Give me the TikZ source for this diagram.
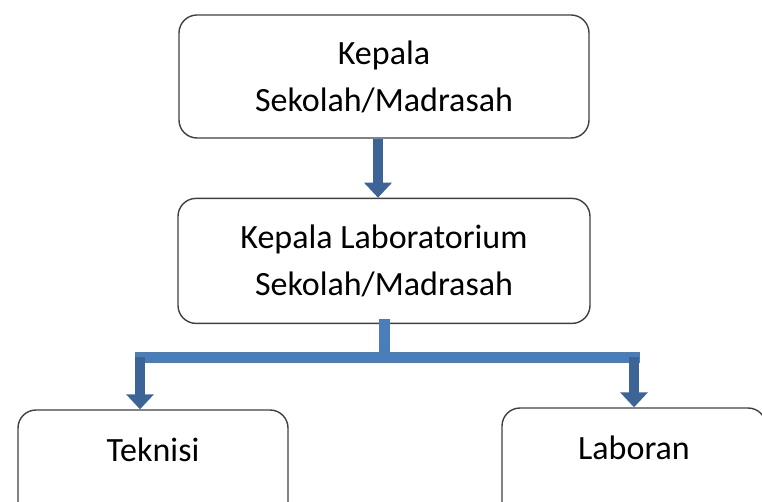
\documentclass[tikz,border=0pt]{standalone}
\usepackage{fontspec}
\setmainfont{Carlito}
\usepackage{tikz}
\usetikzlibrary{arrows.meta}
\usetikzlibrary{positioning}

\definecolor{darkarrow}{HTML}{3C6496}
\definecolor{lightbar}{HTML}{4A7EBB}

\begin{document}
\begin{tikzpicture}[x=1pt,y=1pt,>={Triangle[width=27pt,length=15pt]},
  box/.style={draw=black!75,line width=1.4pt,rounded corners=18pt,align=center,
    inner sep=0pt,font=\fontsize{34}{47}\selectfont},
  flow/.style={->,draw=darkarrow,line width=10pt},
  bar/.style={draw=lightbar,line width=11pt,line cap=rect}]

  \clip (0,0) rectangle (762,-502);
  \useasboundingbox (0,0) rectangle (762,-502);

  \node[box,minimum width=410pt,minimum height=123pt] (kepsek) at (384,-76.5) {Kepala\\Sekolah/Madrasah};
  \node[box,minimum width=412pt,minimum height=125pt] (kalab) [below=59pt of kepsek] {Kepala Laboratorium\\Sekolah/Madrasah};
  \node[box,minimum width=270pt,minimum height=127pt] (teknisi) at (153,-473.5) {Teknisi\\~};
  \node[box,minimum width=264pt,minimum height=127pt] (laboran) at (634,-471.5) {Laboran\\~};

  \coordinate (fork) at ([yshift=-33pt]kalab.south);
  \coordinate (tekdrop) at ([xshift=-13pt]teknisi.north);
  \coordinate (labdrop) at (laboran.north);

  \draw[flow] ([xshift=-6pt]kepsek.south) -- ([xshift=-6pt]kalab.north);
  \draw[bar] (kalab.south) -- (fork);
  \draw[bar] (fork -| tekdrop) -- (fork -| labdrop);
  \draw[flow] (fork -| tekdrop) -- (tekdrop);
  \draw[flow] (fork -| labdrop) -- (labdrop);

\end{tikzpicture}
\end{document}
